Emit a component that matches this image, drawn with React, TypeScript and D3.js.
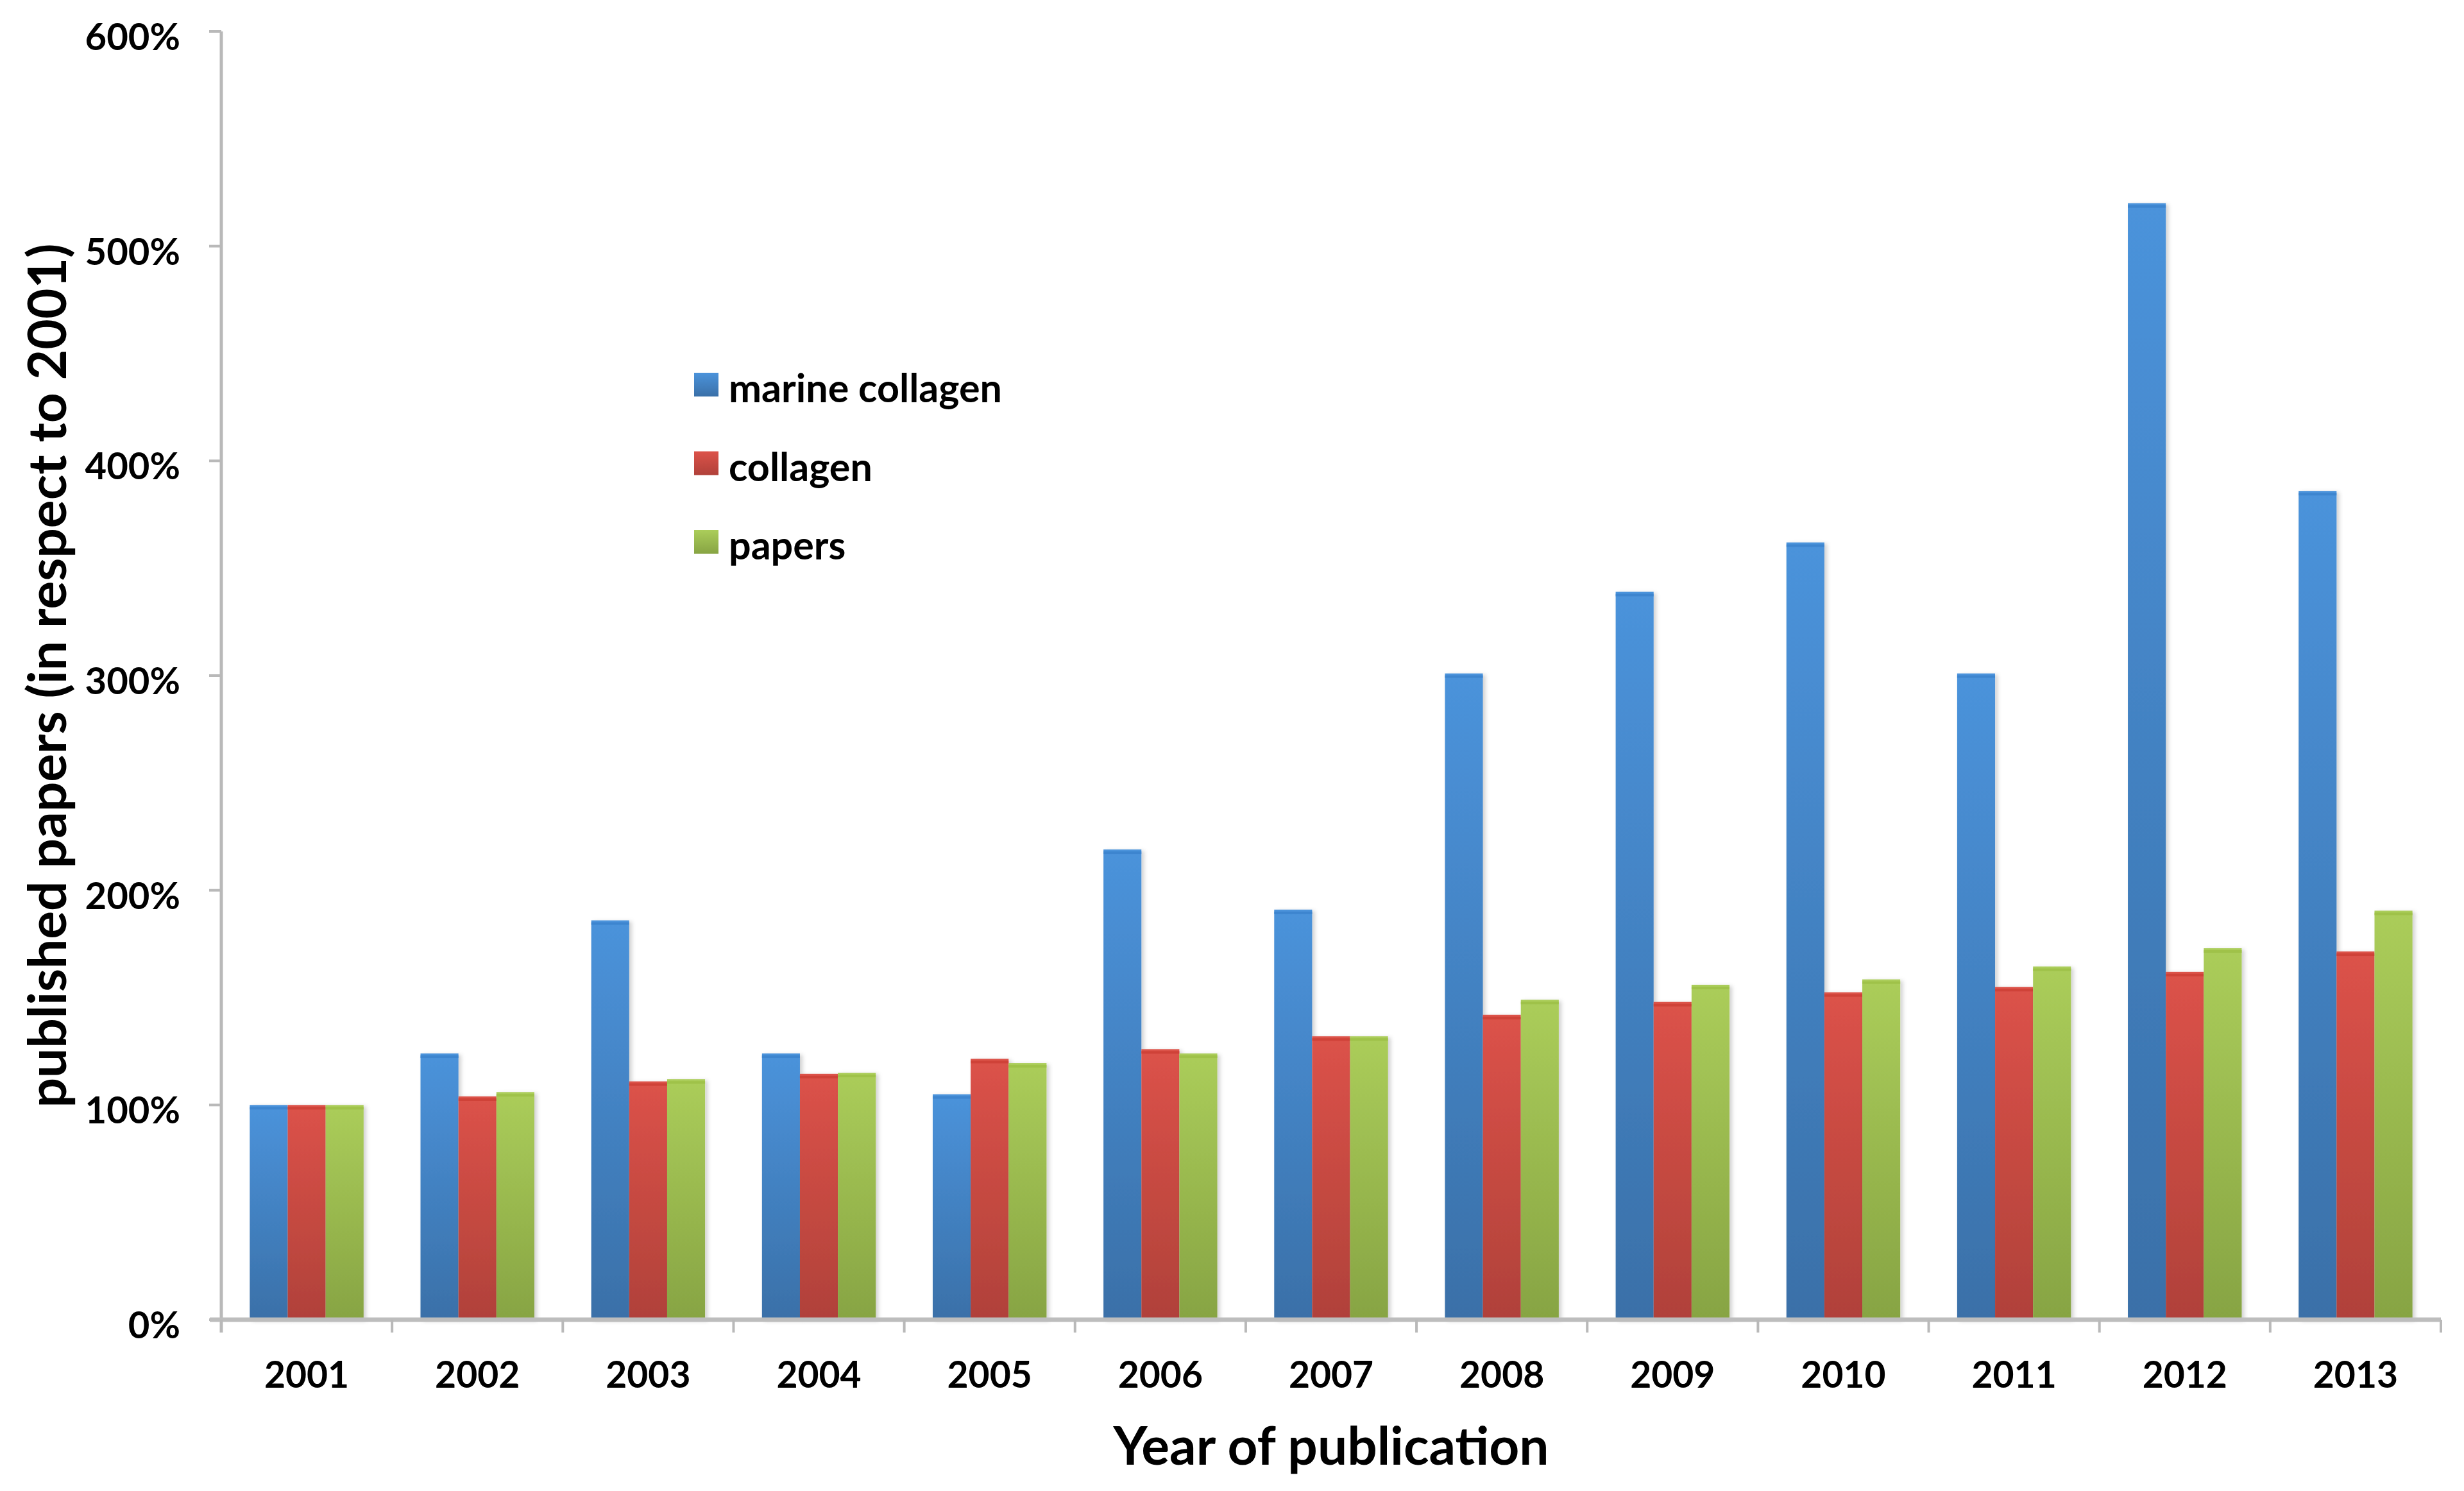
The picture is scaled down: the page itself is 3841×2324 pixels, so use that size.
import { useEffect } from 'react';
import * as d3 from 'd3';

const years = ['2001', '2002', '2003', '2004', '2005', '2006', '2007', '2008', '2009', '2010', '2011', '2012', '2013'];
const seriesNames = ['marine collagen', 'collagen', 'papers'];
const marineCollagen = [100, 124, 186, 124, 105, 219, 191, 301, 339, 362, 301, 520, 386];
const collagen = [100, 104, 111, 114.5, 121.5, 126, 132, 142, 148, 152.5, 155, 162, 171.5];
const papers = [100, 106, 112, 115, 119.5, 124, 132, 149, 156, 158.5, 164.5, 173, 190.5];
const yTicks = [0, 100, 200, 300, 400, 500, 600];

const seriesValues = [marineCollagen, collagen, papers];
const gradients = [
  { id: 'g-blue', top: '#4b93db', bottom: '#3a70a8', edge: '#3b82cc' },
  { id: 'g-red', top: '#dc5249', bottom: '#b0413a', edge: '#cc3f35' },
  { id: 'g-green', top: '#abcd5a', bottom: '#87a443', edge: '#9cbf45' },
];

const W = 3841;
const H = 2324;
const left = 345;
const right = 3805;
const top = 49;
const bottom = 2057;
const font = 'Lato, "Open Sans", sans-serif';

export default function App() {
  useEffect(() => {
    document.body.style.margin = '0';
  }, []);

  const x0 = d3.scaleBand<string>().domain(years).range([left, right]).padding(0);
  const x1 = d3
    .scaleBand<number>()
    .domain([0, 1, 2])
    .range([0, x0.bandwidth()])
    .paddingInner(0)
    .paddingOuter(0.75);
  const y = d3.scaleLinear().domain([0, 600]).range([bottom, top]);

  const boundaries = years.map((yr) => x0(yr) as number).concat([right]);

  return (
    <svg width={W} height={H} viewBox={`0 0 ${W} ${H}`} style={{ display: 'block', background: '#fff' }}>
      <defs>
        {gradients.map((g) => (
          <linearGradient key={g.id} id={g.id} x1="0" y1="0" x2="0" y2="1">
            <stop offset="0%" stopColor={g.top} />
            <stop offset="100%" stopColor={g.bottom} />
          </linearGradient>
        ))}
        <filter id="shadow" x="-20%" y="-5%" width="150%" height="110%">
          <feDropShadow dx="4" dy="2" stdDeviation="3" floodColor="#000" floodOpacity="0.18" />
        </filter>
      </defs>

      {/* bars */}
      {years.map((yr, i) => (
        <g key={yr} transform={`translate(${x0(yr)},0)`}>
          {seriesValues.map((vals, s) => {
            const bx = x1(s) as number;
            const by = y(vals[i]);
            return (
              <g key={s} filter="url(#shadow)">
                <rect x={bx} y={by} width={x1.bandwidth()} height={bottom - by} fill={`url(#${gradients[s].id})`} />
                <rect x={bx} y={by + 3} width={x1.bandwidth()} height={4} fill={gradients[s].edge} opacity={0.8} />
              </g>
            );
          })}
        </g>
      ))}

      {/* y axis */}
      <line x1={left} x2={left} y1={top} y2={bottom + 20} stroke="#b9b9b9" strokeWidth={5} />
      {yTicks.map((t) => (
        <g key={t}>
          <line x1={left - 19} x2={left} y1={y(t)} y2={y(t)} stroke="#b9b9b9" strokeWidth={4} />
          <text
            x={281}
            y={y(t) + 29}
            textAnchor="end"
            fontFamily={font}
            fontWeight={700}
            fontSize={58}
            fill="#000"
          >
            {`${t}%`}
          </text>
        </g>
      ))}

      {/* x axis */}
      <line x1={left - 18} x2={right} y1={bottom} y2={bottom} stroke="#bdbdbd" strokeWidth={7} />
      {boundaries.map((bx, i) => (
        <line key={i} x1={bx} x2={bx} y1={bottom} y2={bottom + 20} stroke="#b9b9b9" strokeWidth={4} />
      ))}
      {years.map((yr) => (
        <text
          key={yr}
          x={(x0(yr) as number) + x0.bandwidth() / 2}
          y={2163}
          textAnchor="middle"
          fontFamily={font}
          fontWeight={700}
          fontSize={57}
          fill="#000"
        >
          {yr}
        </text>
      ))}

      {/* axis titles */}
      <text x={2075} y={2283} textAnchor="middle" fontFamily={font} fontWeight={700} fontSize={82} fill="#000">
        Year of publication
      </text>
      <text
        transform={`translate(103,1053) rotate(-90)`}
        textAnchor="middle"
        fontFamily={font}
        fontWeight={700}
        fontSize={82}
        fill="#000"
      >
        published papers (in respect to 2001)
      </text>

      {/* legend */}
      {seriesNames.map((name, s) => (
        <g key={name} transform={`translate(1082,${581 + s * 122.5})`}>
          <rect x={0} y={0} width={38} height={37} fill={`url(#${gradients[s].id})`} />
          <text x={54} y={46} fontFamily={font} fontWeight={700} fontSize={61} fill="#000">
            {name}
          </text>
        </g>
      ))}
    </svg>
  );
}
